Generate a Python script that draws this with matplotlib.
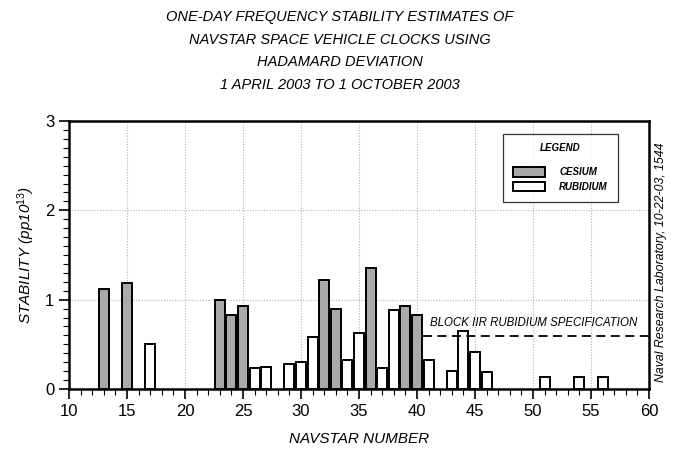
import numpy as np
import matplotlib
matplotlib.use('Agg')
import matplotlib.pyplot as plt
from matplotlib.ticker import MultipleLocator

# Cesium clocks: NAVSTAR number and stability
cesium_svn = [13, 15, 23, 24, 25, 32, 33, 36, 39, 40]
cesium_val = [1.12, 1.19, 1.00, 0.83, 0.93, 1.22, 0.89, 1.35, 0.93, 0.83]

# Rubidium clocks
rubidium_svn = [17, 26, 27, 29, 30, 31, 34, 35, 37, 38, 41, 43, 44, 45, 46, 51, 54, 56]
rubidium_val = [0.50, 0.23, 0.25, 0.28, 0.30, 0.58, 0.32, 0.63, 0.23, 0.88,
                0.32, 0.20, 0.65, 0.41, 0.19, 0.13, 0.13, 0.13]

spec_level = 0.59
spec_start = 40.5

title = ("ONE-DAY FREQUENCY STABILITY ESTIMATES OF\n"
         "NAVSTAR SPACE VEHICLE CLOCKS USING\n"
         "HADAMARD DEVIATION\n"
         "1 APRIL 2003 TO 1 OCTOBER 2003")

plt.rcParams['font.family'] = ['Liberation Sans', 'DejaVu Sans']
plt.rcParams['mathtext.fontset'] = 'custom'
plt.rcParams['mathtext.rm'] = 'Liberation Sans'
plt.rcParams['mathtext.it'] = 'Liberation Sans:italic'

fig = plt.figure(figsize=(6.77, 4.49), dpi=100)
ax = fig.add_axes([69 / 677, 1 - 389 / 449, 580 / 677, 268 / 449])

bw = 0.85
ax.bar(cesium_svn, cesium_val, width=bw, color='#a9a9a9', edgecolor='black',
       linewidth=1.4, zorder=3, label='CESIUM')
ax.bar(rubidium_svn, rubidium_val, width=bw, color='white', edgecolor='black',
       linewidth=1.4, zorder=3, label='RUBIDIUM')

# spec line
ax.plot([spec_start, 60], [spec_level, spec_level], color='black', lw=1.3,
        linestyle=(0, (5, 3)), zorder=4)
ax.text(41.1, spec_level + 0.08, "BLOCK IIR RUBIDIUM SPECIFICATION",
        fontsize=8.3, style='italic', ha='left', va='bottom', zorder=4)

ax.set_xlim(10, 60)
ax.set_ylim(0, 3)
ax.xaxis.set_major_locator(MultipleLocator(5))
ax.xaxis.set_minor_locator(MultipleLocator(1))
ax.yaxis.set_major_locator(MultipleLocator(1))
ax.yaxis.set_minor_locator(MultipleLocator(0.1))
ax.tick_params(axis='both', which='major', direction='out', length=7, width=1.2,
               labelsize=12)
ax.tick_params(axis='both', which='minor', direction='out', length=4, width=0.8)
ax.grid(True, which='major', color='#b0b0b0', linestyle=(0, (1, 1.5)), lw=0.8, zorder=0)
for s in ax.spines.values():
    s.set_linewidth(1.8)

ax.set_xlabel("NAVSTAR NUMBER", fontsize=11, style='italic', labelpad=10)
ax.set_ylabel(r"STABILITY (pp10$^{\mathit{13}}$)", fontsize=11, style='italic', labelpad=6)

fig.text(340 / 677, 1 - 10 / 449, title, ha='center', va='top', fontsize=10.5,
         style='italic', linespacing=1.78)

fig.text(661 / 677, 1 - 262 / 449, "Naval Research Laboratory, 10-22-03, 1544",
         rotation=90, ha='center', va='center', fontsize=8.8, style='italic')

leg = ax.legend(loc='upper left', bbox_to_anchor=(0.748, 0.953), title='LEGEND',
                prop={'size': 7, 'style': 'italic', 'weight': 'bold'},
                title_fontproperties={'size': 7, 'style': 'italic', 'weight': 'bold'},
                frameon=True, fancybox=False,
                edgecolor='black', handlelength=3.3, handleheight=1.1,
                borderpad=1.0, labelspacing=0.5, handletextpad=1.5,
                borderaxespad=0)
leg.get_frame().set_linewidth(0.9)
leg._legend_box.sep = 10

plt.savefig('out.png', dpi=100)
